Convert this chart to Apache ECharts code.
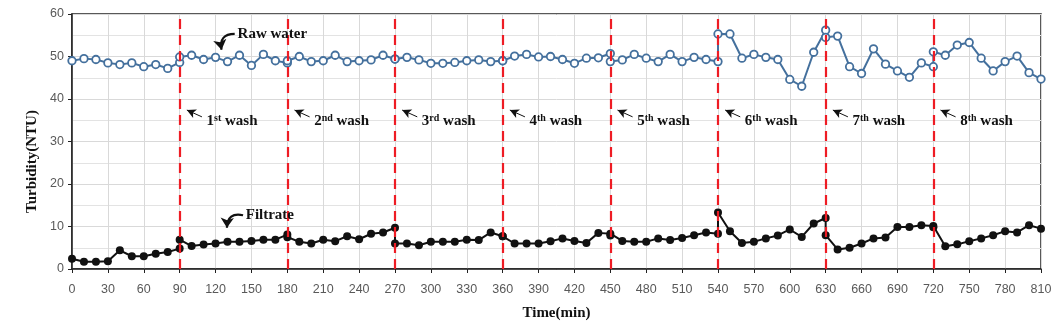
<!DOCTYPE html>
<html>
<head>
<meta charset="utf-8">
<script src="https://cdn.jsdelivr.net/npm/echarts@6/dist/echarts.min.js"></script>
<style>html,body{margin:0;padding:0;background:#fff}#c{width:1062px;height:328px}</style>
</head>
<body>
<div id="c"></div>
<script>
// ---- data ----
const times = [
  0,10,20,30,40,50,60,70,80,90,
  90,100,110,120,130,140,150,160,170,180,
  180,190,200,210,220,230,240,250,260,270,
  270,280,290,300,310,320,330,340,350,360,
  360,370,380,390,400,410,420,430,440,450,
  450,460,470,480,490,500,510,520,530,540,
  540,550,560,570,580,590,600,610,620,630,
  630,640,650,660,670,680,690,700,710,720,
  720,730,740,750,760,770,780,790,800,810
];
const rawWater = [
  49.0,49.5,49.3,48.5,48.1,48.5,47.6,48.1,47.2,48.6,
  49.9,50.3,49.3,49.8,48.8,50.3,47.9,50.5,49.0,48.5,
  49.0,50.0,48.8,49.0,50.3,48.8,49.0,49.2,50.3,49.4,
  49.4,49.8,49.2,48.4,48.4,48.6,49.0,49.2,48.8,49.0,
  49.0,50.1,50.5,49.9,50.0,49.3,48.4,49.6,49.7,50.7,
  48.8,49.2,50.5,49.6,48.8,50.5,48.8,49.8,49.3,48.8,
  55.3,55.3,49.6,50.5,49.8,49.3,44.6,43.0,51.0,56.2,
  54.5,54.8,47.6,46.0,51.8,48.2,46.6,45.1,48.5,47.6,
  51.1,50.3,52.7,53.3,49.6,46.6,48.8,50.1,46.2,44.7
];
const filtrate = [
  2.4,1.7,1.7,1.8,4.4,3.0,3.0,3.6,4.0,4.8,
  6.9,5.4,5.75,6.0,6.4,6.4,6.6,6.9,6.9,8.1,
  7.5,6.4,6.0,6.9,6.55,7.7,7.0,8.3,8.6,9.7,
  6.0,6.0,5.6,6.4,6.4,6.4,6.9,6.8,8.6,7.7,
  7.7,6.0,6.0,6.0,6.55,7.2,6.6,6.1,8.5,8.3,
  7.9,6.6,6.4,6.4,7.2,6.8,7.3,7.95,8.6,8.3,
  13.3,8.9,6.1,6.4,7.2,7.9,9.3,7.55,10.7,12.0,
  7.95,4.6,5.0,6.0,7.2,7.4,9.9,9.9,10.3,10.1,
  9.8,5.35,5.8,6.55,7.2,7.95,8.9,8.6,10.3,9.5
];
const washTimes = [90,180,270,360,450,540,630,720];
const washOrdinals = ['st','nd','rd','th','th','th','th','th'];
const xTicks = {min:0, max:810, interval:30};
const yTicks = {min:0, max:60, interval:10};

// ---- styles ----
const serif = 'Liberation Serif';
const blue = '#44709d';

const washLabelData = washTimes.map((w,i)=>({
  coord:[w+22, 34.9],
  label:{formatter:'{n|'+(i+1)+'}{s|'+washOrdinals[i]+'}{n| wash}'}
}));
const washArrows = washTimes.map(w=>[{coord:[w+6,37.4]},{coord:[w+18.6,35.8]}]);

const chart = echarts.init(document.getElementById('c'));
chart.setOption({
  animation:false,
  grid:{left:72, right:21, top:14, bottom:59, show:true, borderColor:'#222', borderWidth:1.5, containLabel:false},
  xAxis:{
    type:'value', min:xTicks.min, max:xTicks.max, interval:xTicks.interval,
    name:'Time(min)', nameLocation:'middle', nameGap:37,
    nameTextStyle:{fontFamily:serif, fontWeight:'bold', fontSize:15, color:'#111'},
    axisLine:{show:true, onZero:false, lineStyle:{color:'#222', width:1.5}},
    axisTick:{show:true, inside:false, length:4, lineStyle:{color:'#222'}},
    axisLabel:{color:'#595959', fontFamily:'Liberation Sans', fontSize:12.5, margin:14},
    splitLine:{show:true, lineStyle:{color:'#d9d9d9', width:1}}
  },
  yAxis:{
    type:'value', min:yTicks.min, max:yTicks.max, interval:yTicks.interval,
    name:'Turbidity(NTU)', nameLocation:'middle', nameGap:31, nameRotate:90,
    nameTextStyle:{fontFamily:serif, fontWeight:'bold', fontSize:15, color:'#111', padding:[0,40,0,0]},
    axisLine:{show:true, onZero:false, lineStyle:{color:'#222', width:1.5}},
    axisTick:{show:true, length:4, lineStyle:{color:'#222'}},
    axisLabel:{color:'#595959', fontFamily:'Liberation Sans', fontSize:12.5, margin:8},
    splitLine:{show:true, lineStyle:{color:'#d9d9d9', width:1}},
    minorTick:{show:false, splitNumber:2},
    minorSplitLine:{show:true, lineStyle:{color:'#e3e3e3', width:1}}
  },
  series:[
    {
      name:'Raw water', type:'line', z:3,
      data: times.map((t,i)=>[t, rawWater[i]]),
      symbol:'circle', symbolSize:7.5, showSymbol:true,
      lineStyle:{color:blue, width:2},
      itemStyle:{color:'#fff', borderColor:blue, borderWidth:1.8}
    },
    {
      name:'Filtrate', type:'line', z:3,
      data: times.map((t,i)=>[t, filtrate[i]]),
      symbol:'circle', symbolSize:8,
      lineStyle:{color:'#111', width:2},
      itemStyle:{color:'#111'}
    },
    {
      name:'wash', type:'line', data:[], z:5,
      markLine:{
        silent:true, symbol:'none', label:{show:false},
        lineStyle:{color:'#ee1c24', width:2.2, type:[10,6]},
        data: washTimes.map(t=>({xAxis:t}))
      }
    },
    {
      name:'washArrows', type:'line', data:[], z:6,
      markLine:{
        silent:true, symbol:['arrow','none'], symbolSize:[7,9], label:{show:false},
        lineStyle:{color:'#111', width:1, type:'solid'},
        data: washArrows
      },
      markPoint:{
        silent:true, symbol:'rect', symbolSize:1, itemStyle:{color:'rgba(0,0,0,0)'},
        label:{show:true, position:'right', distance:0,
          rich:{
            n:{fontFamily:serif, fontWeight:'bold', fontSize:15, color:'#111'},
            s:{fontFamily:serif, fontWeight:'bold', fontSize:10, color:'#111', verticalAlign:'top'}
          }},
        data: washLabelData
      }
    },
    {
      name:'curvedArrows', type:'lines', coordinateSystem:'cartesian2d', z:6,
      silent:true, symbol:['none','arrow'], symbolSize:[8,10],
      lineStyle:{color:'#111', width:2.2, type:'solid', curveness:-0.6, opacity:1},
      data:[
        {coords:[[136,55.3],[125,51.6]]},
        {coords:[[143,12.65],[129.5,9.7]]}
      ]
    },
    {
      name:'seriesLabels', type:'line', data:[], z:6,
      markPoint:{
        silent:true, symbol:'rect', symbolSize:1, itemStyle:{color:'rgba(0,0,0,0)'},
        label:{show:true, position:'right', distance:0,
          fontFamily:serif, fontWeight:'bold', fontSize:15, color:'#111'},
        data:[
          {coord:[138,55.3], label:{formatter:'Raw water'}},
          {coord:[144.8,12.65], label:{formatter:'Filtrate'}}
        ]
      }
    }
  ]
});
</script>
</body>
</html>
